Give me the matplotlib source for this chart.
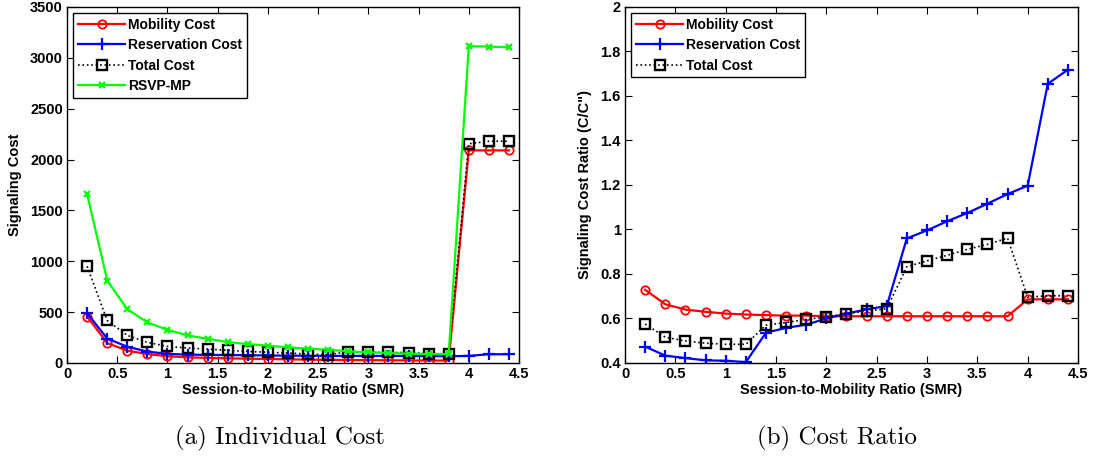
import numpy as np
import matplotlib.pyplot as plt

# session-to-mobility ratio sample points
smr = [0.2, 0.4, 0.6, 0.8, 1.0, 1.2, 1.4, 1.6, 1.8, 2.0, 2.2,
       2.4, 2.6, 2.8, 3.0, 3.2, 3.4, 3.6, 3.8, 4.0, 4.2, 4.4]

# (a) individual signaling cost
mobility_cost = [457, 196, 121, 88, 66, 56, 50, 46, 42, 39, 36,
                 33, 31, 29, 28, 27, 25, 24, 24, 2090, 2090, 2090]
reservation_cost = [490, 240, 160, 112, 90, 82, 80, 78, 76, 74, 72,
                    71, 70, 70, 70, 70, 69, 68, 66, 70, 86, 86]
total_cost = [950, 418, 271, 203, 163, 147, 137, 124, 114, 105, 98,
              88, 82, 110, 105, 104, 102, 92, 91, 2155, 2180, 2180]
rsvp_mp = [1660, 810, 529, 399, 327, 271, 238, 206, 186, 170, 154,
           140, 131, 114, 105, 98, 92, 88, 88, 3115, 3110, 3105]

# (b) cost ratio C/C"
mobility_ratio = [0.729, 0.664, 0.640, 0.630, 0.622, 0.618, 0.615, 0.613, 0.613, 0.610, 0.610,
                  0.610, 0.610, 0.610, 0.610, 0.610, 0.610, 0.610, 0.610, 0.686, 0.686, 0.686]
reservation_ratio = [0.474, 0.433, 0.422, 0.412, 0.410, 0.404, 0.536, 0.558, 0.572, 0.600, 0.622,
                     0.641, 0.656, 0.960, 0.996, 1.037, 1.074, 1.116, 1.159, 1.197, 1.655, 1.718]
total_ratio = [0.575, 0.516, 0.499, 0.489, 0.484, 0.484, 0.570, 0.582, 0.596, 0.607, 0.622,
               0.633, 0.644, 0.833, 0.859, 0.884, 0.911, 0.933, 0.961, 0.696, 0.702, 0.702]

plt.rcParams['font.family'] = ['Liberation Sans', 'DejaVu Sans']
plt.rcParams['font.weight'] = 'bold'
plt.rcParams['font.size'] = 10.5

fig = plt.figure(figsize=(11.01, 4.62), dpi=100)
ax1 = fig.add_axes([0.0609, 0.2143, 0.4105, 0.7706])
ax2 = fig.add_axes([0.5677, 0.2143, 0.4114, 0.7706])

green = (0, 1, 0)

ax1.plot(smr, mobility_cost, '-o', color='r', lw=1.6, ms=6, mfc='none', mew=1.3, label='Mobility Cost')
ax1.plot(smr, reservation_cost, '-+', color='b', lw=1.6, ms=9, mew=1.6, label='Reservation Cost')
ax1.plot(smr, total_cost, ':s', color='k', lw=1.2, ms=6.5, mfc='none', mew=1.7, label='Total Cost')
ax1.plot(smr, rsvp_mp, '-x', color=green, lw=1.6, ms=4.5, mew=1.6, label='RSVP-MP')

ax2.plot(smr, mobility_ratio, '-o', color='r', lw=1.6, ms=6, mfc='none', mew=1.3, label='Mobility Cost')
ax2.plot(smr, reservation_ratio, '-+', color='b', lw=1.6, ms=9, mew=1.6, label='Reservation Cost')
ax2.plot(smr, total_ratio, ':s', color='k', lw=1.2, ms=6.5, mfc='none', mew=1.7, label='Total Cost')

ax1.set_xlim(0, 4.5)
ax1.set_ylim(0, 3500)
ax1.set_yticks(np.arange(0, 3501, 500))
ax1.set_ylabel('Signaling Cost', fontweight='bold', labelpad=6)

ax2.set_xlim(0, 4.5)
ax2.set_ylim(0.4, 2)
ax2.set_yticks([0.4, 0.6, 0.8, 1, 1.2, 1.4, 1.6, 1.8, 2])
ax2.set_yticklabels(['0.4', '0.6', '0.8', '1', '1.2', '1.4', '1.6', '1.8', '2'])
ax2.set_ylabel('Signaling Cost Ratio (C/C")', fontweight='bold', labelpad=6)

for ax in (ax1, ax2):
    ax.set_xticks(np.arange(0, 4.51, 0.5))
    ax.set_xticklabels(['0', '0.5', '1', '1.5', '2', '2.5', '3', '3.5', '4', '4.5'])
    ax.set_xlabel('Session-to-Mobility Ratio (SMR)', fontweight='bold', labelpad=1)
    ax.tick_params(direction='in', top=True, right=True, length=5, width=0.8, pad=3)
    for s in ax.spines.values():
        s.set_linewidth(1.0)
    leg = ax.legend(loc='upper left', fancybox=False, framealpha=1, edgecolor='k',
                    fontsize=10, handlelength=3.4, borderpad=0.35, labelspacing=0.45,
                    handletextpad=0.2, borderaxespad=0.45)
    leg.get_frame().set_linewidth(1.0)

fig.text(0.254, 0.05, '(a) Individual Cost', family='cmr10', fontsize=18,
         fontweight='normal', ha='center', va='center')
fig.text(0.76, 0.05, '(b) Cost Ratio', family='cmr10', fontsize=18,
         fontweight='normal', ha='center', va='center')

fig.savefig('out.png', dpi=100)
